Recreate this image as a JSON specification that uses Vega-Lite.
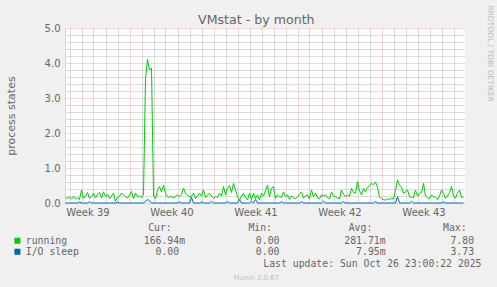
{
  "$schema": "https://vega.github.io/schema/vega-lite/v6.json",
  "background": "#f0f0f0",
  "padding": {"left": 5, "top": 5, "right": 30, "bottom": 30},
  "config": {
    "font": "DejaVu Sans",
    "view": {"stroke": null, "fill": "#ffffff"},
    "concat": {"spacing": 0},
    "axis": {"labelColor": "#666666", "titleColor": "#666666", "labelFont": "DejaVu Sans", "labelFontSize": 10, "titleFont": "DejaVu Sans", "titleFontWeight": "normal", "ticks": false}
  },
  "title": {"text": "RRDTOOL / TOBI OETIKER", "orient": "right", "anchor": "start", "font": "DejaVu Sans", "fontSize": 7.5, "fontWeight": "normal", "color": "#bbbbbb", "offset": 5, "dx": -9},
  "vconcat": [{
    "title": {"text": "VMstat - by month", "anchor": "middle", "font": "DejaVu Sans", "fontSize": 12.6, "fontWeight": "normal", "color": "#666666", "offset": -4, "dx": 13},
    "vconcat": [{
      "title": {"text": "Munin 2.0.67", "orient": "bottom", "anchor": "middle", "font": "DejaVu Sans", "fontSize": 7, "fontWeight": "normal", "color": "#c0c0c0", "offset": 5, "dx": 13},
      "vconcat": [{
        "title": {"text": "Last update: Sun Oct 26 23:00:22 2025", "orient": "bottom", "anchor": "end", "font": "DejaVu Sans Mono", "fontSize": 9.8, "fontWeight": "normal", "color": "#666666", "offset": 42, "dx": 16},
        "width": 400,
        "height": 175,
        "data": {
          "format": {"parse": {"t": "utc:'%Y-%m-%d %H'"}},
          "values": [
            {"t":"2025-09-23 16","r":0.16,"i":0},{"t":"2025-09-23 20","r":0.13,"i":0},
            {"t":"2025-09-24 00","r":0.17,"i":0},{"t":"2025-09-24 04","r":0.11,"i":0},{"t":"2025-09-24 08","r":0.18,"i":0},{"t":"2025-09-24 12","r":0.12,"i":0},{"t":"2025-09-24 16","r":0.15,"i":0},{"t":"2025-09-24 20","r":0.10,"i":0.03},
            {"t":"2025-09-25 00","r":0.37,"i":0},{"t":"2025-09-25 04","r":0.13,"i":0},{"t":"2025-09-25 08","r":0.20,"i":0},{"t":"2025-09-25 12","r":0.30,"i":0},{"t":"2025-09-25 16","r":0.13,"i":0.04},{"t":"2025-09-25 20","r":0.18,"i":0},
            {"t":"2025-09-26 00","r":0.28,"i":0},{"t":"2025-09-26 04","r":0.14,"i":0},{"t":"2025-09-26 08","r":0.25,"i":0},{"t":"2025-09-26 12","r":0.30,"i":0},{"t":"2025-09-26 16","r":0.15,"i":0},{"t":"2025-09-26 20","r":0.32,"i":0},
            {"t":"2025-09-27 00","r":0.18,"i":0},{"t":"2025-09-27 04","r":0.25,"i":0},{"t":"2025-09-27 08","r":0.12,"i":0},{"t":"2025-09-27 12","r":0.20,"i":0},{"t":"2025-09-27 16","r":0.28,"i":0},{"t":"2025-09-27 20","r":0.05,"i":0},
            {"t":"2025-09-28 00","r":0.16,"i":0.02},{"t":"2025-09-28 04","r":0.20,"i":0},{"t":"2025-09-28 08","r":0.28,"i":0},{"t":"2025-09-28 12","r":0.24,"i":0},{"t":"2025-09-28 16","r":0.18,"i":0},{"t":"2025-09-28 20","r":0.14,"i":0},
            {"t":"2025-09-29 00","r":0.22,"i":0},{"t":"2025-09-29 04","r":0.33,"i":0},{"t":"2025-09-29 08","r":0.12,"i":0},{"t":"2025-09-29 12","r":0.28,"i":0},{"t":"2025-09-29 16","r":0.18,"i":0},{"t":"2025-09-29 20","r":0.20,"i":0},
            {"t":"2025-09-30 00","r":0.15,"i":0},{"t":"2025-09-30 04","r":0.25,"i":0},{"t":"2025-09-30 08","r":3.55,"i":0.05},{"t":"2025-09-30 12","r":4.10,"i":0.10},{"t":"2025-09-30 16","r":3.80,"i":0.06},{"t":"2025-09-30 20","r":3.85,"i":0},
            {"t":"2025-10-01 00","r":0.20,"i":0},{"t":"2025-10-01 04","r":0.12,"i":0},{"t":"2025-10-01 08","r":0.37,"i":0},{"t":"2025-10-01 12","r":0.47,"i":0},{"t":"2025-10-01 16","r":0.32,"i":0},{"t":"2025-10-01 20","r":0.51,"i":0},
            {"t":"2025-10-02 00","r":0.28,"i":0},{"t":"2025-10-02 04","r":0.18,"i":0},{"t":"2025-10-02 08","r":0.16,"i":0},{"t":"2025-10-02 12","r":0.20,"i":0},{"t":"2025-10-02 16","r":0.13,"i":0},{"t":"2025-10-02 20","r":0.20,"i":0},
            {"t":"2025-10-03 00","r":0.23,"i":0},{"t":"2025-10-03 04","r":0.18,"i":0.03},{"t":"2025-10-03 08","r":0.25,"i":0},{"t":"2025-10-03 12","r":0.42,"i":0},{"t":"2025-10-03 16","r":0.28,"i":0},{"t":"2025-10-03 20","r":0.22,"i":0},
            {"t":"2025-10-04 00","r":0.18,"i":0},{"t":"2025-10-04 04","r":0.20,"i":0.16},{"t":"2025-10-04 08","r":0.28,"i":0},{"t":"2025-10-04 12","r":0.13,"i":0},{"t":"2025-10-04 16","r":0.20,"i":0},{"t":"2025-10-04 20","r":0.28,"i":0},
            {"t":"2025-10-05 00","r":0.20,"i":0.03},{"t":"2025-10-05 04","r":0.37,"i":0},{"t":"2025-10-05 08","r":0.16,"i":0},{"t":"2025-10-05 12","r":0.23,"i":0},{"t":"2025-10-05 16","r":0.28,"i":0},{"t":"2025-10-05 20","r":0.20,"i":0.05},
            {"t":"2025-10-06 00","r":0.13,"i":0},{"t":"2025-10-06 04","r":0.18,"i":0},{"t":"2025-10-06 08","r":0.16,"i":0},{"t":"2025-10-06 12","r":0.28,"i":0},{"t":"2025-10-06 16","r":0.20,"i":0},{"t":"2025-10-06 20","r":0.47,"i":0},
            {"t":"2025-10-07 00","r":0.23,"i":0},{"t":"2025-10-07 04","r":0.42,"i":0.04},{"t":"2025-10-07 08","r":0.50,"i":0},{"t":"2025-10-07 12","r":0.30,"i":0},{"t":"2025-10-07 16","r":0.56,"i":0},{"t":"2025-10-07 20","r":0.37,"i":0},
            {"t":"2025-10-08 00","r":0.18,"i":0},{"t":"2025-10-08 04","r":0.09,"i":0.09},{"t":"2025-10-08 08","r":0.20,"i":0},{"t":"2025-10-08 12","r":0.28,"i":0},{"t":"2025-10-08 16","r":0.15,"i":0},{"t":"2025-10-08 20","r":0.09,"i":0},
            {"t":"2025-10-09 00","r":0.28,"i":0},{"t":"2025-10-09 04","r":0.10,"i":0.05},{"t":"2025-10-09 08","r":0.28,"i":0},{"t":"2025-10-09 12","r":0.13,"i":0.10},{"t":"2025-10-09 16","r":0.23,"i":0},{"t":"2025-10-09 20","r":0.09,"i":0},
            {"t":"2025-10-10 00","r":0.28,"i":0},{"t":"2025-10-10 04","r":0.20,"i":0},{"t":"2025-10-10 08","r":0.35,"i":0},{"t":"2025-10-10 12","r":0.51,"i":0},{"t":"2025-10-10 16","r":0.18,"i":0},{"t":"2025-10-10 20","r":0.42,"i":0},
            {"t":"2025-10-11 00","r":0.47,"i":0},{"t":"2025-10-11 04","r":0.13,"i":0},{"t":"2025-10-11 08","r":0.23,"i":0},{"t":"2025-10-11 12","r":0.18,"i":0},{"t":"2025-10-11 16","r":0.16,"i":0.04},{"t":"2025-10-11 20","r":0.32,"i":0},
            {"t":"2025-10-12 00","r":0.18,"i":0},{"t":"2025-10-12 04","r":0.23,"i":0},{"t":"2025-10-12 08","r":0.10,"i":0},{"t":"2025-10-12 12","r":0.20,"i":0},{"t":"2025-10-12 16","r":0.15,"i":0},{"t":"2025-10-12 20","r":0.12,"i":0},
            {"t":"2025-10-13 00","r":0.18,"i":0},{"t":"2025-10-13 04","r":0.25,"i":0},{"t":"2025-10-13 08","r":0.32,"i":0.04},{"t":"2025-10-13 12","r":0.14,"i":0},{"t":"2025-10-13 16","r":0.20,"i":0},{"t":"2025-10-13 20","r":0.23,"i":0},
            {"t":"2025-10-14 00","r":0.12,"i":0},{"t":"2025-10-14 04","r":0.37,"i":0},{"t":"2025-10-14 08","r":0.18,"i":0},{"t":"2025-10-14 12","r":0.28,"i":0},{"t":"2025-10-14 16","r":0.15,"i":0},{"t":"2025-10-14 20","r":0.12,"i":0},
            {"t":"2025-10-15 00","r":0.23,"i":0},{"t":"2025-10-15 04","r":0.20,"i":0.05},{"t":"2025-10-15 08","r":0.23,"i":0},{"t":"2025-10-15 12","r":0.15,"i":0},{"t":"2025-10-15 16","r":0.12,"i":0},{"t":"2025-10-15 20","r":0.32,"i":0},
            {"t":"2025-10-16 00","r":0.20,"i":0},{"t":"2025-10-16 04","r":0.18,"i":0},{"t":"2025-10-16 08","r":0.14,"i":0},{"t":"2025-10-16 12","r":0.12,"i":0},{"t":"2025-10-16 16","r":0.37,"i":0},{"t":"2025-10-16 20","r":0.25,"i":0.04},
            {"t":"2025-10-17 00","r":0.18,"i":0},{"t":"2025-10-17 04","r":0.23,"i":0},{"t":"2025-10-17 08","r":0.20,"i":0},{"t":"2025-10-17 12","r":0.42,"i":0},{"t":"2025-10-17 16","r":0.30,"i":0},{"t":"2025-10-17 20","r":0.28,"i":0},
            {"t":"2025-10-18 00","r":0.61,"i":0},{"t":"2025-10-18 04","r":0.35,"i":0},{"t":"2025-10-18 08","r":0.23,"i":0},{"t":"2025-10-18 12","r":0.42,"i":0},{"t":"2025-10-18 16","r":0.32,"i":0},{"t":"2025-10-18 20","r":0.45,"i":0},
            {"t":"2025-10-19 00","r":0.50,"i":0},{"t":"2025-10-19 04","r":0.56,"i":0},{"t":"2025-10-19 08","r":0.52,"i":0},{"t":"2025-10-19 12","r":0.60,"i":0.04},{"t":"2025-10-19 16","r":0.45,"i":0},{"t":"2025-10-19 20","r":0.18,"i":0},
            {"t":"2025-10-20 00","r":0.12,"i":0},{"t":"2025-10-20 04","r":0.10,"i":0},{"t":"2025-10-20 08","r":0.08,"i":0},{"t":"2025-10-20 12","r":0.12,"i":0},{"t":"2025-10-20 16","r":0.10,"i":0},{"t":"2025-10-20 20","r":0.14,"i":0},
            {"t":"2025-10-21 00","r":0.12,"i":0},{"t":"2025-10-21 04","r":0.35,"i":0},{"t":"2025-10-21 08","r":0.66,"i":0.18},{"t":"2025-10-21 12","r":0.51,"i":0},{"t":"2025-10-21 16","r":0.45,"i":0},{"t":"2025-10-21 20","r":0.28,"i":0},
            {"t":"2025-10-22 00","r":0.32,"i":0},{"t":"2025-10-22 04","r":0.37,"i":0},{"t":"2025-10-22 08","r":0.18,"i":0},{"t":"2025-10-22 12","r":0.16,"i":0.05},{"t":"2025-10-22 16","r":0.15,"i":0},{"t":"2025-10-22 20","r":0.37,"i":0},
            {"t":"2025-10-23 00","r":0.20,"i":0},{"t":"2025-10-23 04","r":0.28,"i":0},{"t":"2025-10-23 08","r":0.30,"i":0},{"t":"2025-10-23 12","r":0.56,"i":0},{"t":"2025-10-23 16","r":0.20,"i":0},{"t":"2025-10-23 20","r":0.15,"i":0},
            {"t":"2025-10-24 00","r":0.13,"i":0},{"t":"2025-10-24 04","r":0.23,"i":0},{"t":"2025-10-24 08","r":0.18,"i":0},{"t":"2025-10-24 12","r":0.16,"i":0},{"t":"2025-10-24 16","r":0.10,"i":0},{"t":"2025-10-24 20","r":0.20,"i":0},
            {"t":"2025-10-25 00","r":0.37,"i":0},{"t":"2025-10-25 04","r":0.28,"i":0.03},{"t":"2025-10-25 08","r":0.13,"i":0},{"t":"2025-10-25 12","r":0.20,"i":0},{"t":"2025-10-25 16","r":0.30,"i":0},{"t":"2025-10-25 20","r":0.47,"i":0},
            {"t":"2025-10-26 00","r":0.20,"i":0},{"t":"2025-10-26 04","r":0.13,"i":0},{"t":"2025-10-26 08","r":0.28,"i":0},{"t":"2025-10-26 12","r":0.37,"i":0},{"t":"2025-10-26 16","r":0.16,"i":0},{"t":"2025-10-26 20","r":0.17,"i":0}
          ]
        },
        "layer": [
          {
            "mark": {"type": "line", "strokeWidth": 1},
            "encoding": {
              "x": {
                "field": "t", "type": "temporal",
                "scale": {"type": "utc", "nice": false, "domain": [{"year": 2025, "month": 9, "date": 23, "hours": 15, "utc": true}, {"year": 2025, "month": 10, "date": 26, "hours": 23, "utc": true}]},
                "axis": {
                  "orient": "bottom", "title": null, "domain": false, "ticks": false,
                  "tickCount": {"interval": "day", "step": 1},
                  "grid": true, "gridColor": "#a0a0a0", "gridDash": [1, 1],
                  "gridOpacity": {"condition": {"test": "utcFormat(datum.value, '%u') == '1'", "value": 0}, "value": 0.75},
                  "labelExpr": "utcFormat(datum.value, '%u') == '4' ? 'Week ' + utcFormat(datum.value, '%V') : ''",
                  "labelOffset": 6, "labelPadding": 4, "labelOverlap": false, "labelFlush": false, "labelBound": false
                }
              },
              "y": {
                "field": "r", "type": "quantitative",
                "scale": {"domain": [0, 5], "nice": false},
                "axis": {
                  "orient": "left", "title": null, "labels": false, "domain": false, "ticks": false,
                  "values": [0.2, 0.4, 0.6, 0.8, 1.2, 1.4, 1.6, 1.8, 2.2, 2.4, 2.6, 2.8, 3.2, 3.4, 3.6, 3.8, 4.2, 4.4, 4.6, 4.8],
                  "grid": true, "gridColor": "#a0a0a0", "gridDash": [1, 1], "gridOpacity": 0.75
                }
              },
              "color": {
                "datum": "running",
                "scale": {"domain": ["running", "I/O sleep"], "range": ["#00cc00", "#0066b3"]},
                "legend": {
                  "orient": "none", "legendX": -52.5, "legendY": 195, "direction": "vertical", "padding": 0,
                  "title": "\u200b\u00a0\u00a0\u00a0\u00a0\u00a0\u00a0\u00a0\u00a0\u00a0\u00a0\u00a0\u00a0\u00a0\u00a0\u00a0\u00a0\u00a0\u00a0\u00a0\u00a0\u00a0\u00a0\u00a0Cur:\u00a0\u00a0\u00a0\u00a0\u00a0\u00a0\u00a0\u00a0\u00a0\u00a0\u00a0\u00a0\u00a0Min:\u00a0\u00a0\u00a0\u00a0\u00a0\u00a0\u00a0\u00a0\u00a0\u00a0\u00a0\u00a0\u00a0Avg:\u00a0\u00a0\u00a0\u00a0\u00a0\u00a0\u00a0\u00a0\u00a0\u00a0\u00a0\u00a0Max:",
                  "titleFont": "DejaVu Sans Mono", "titleFontSize": 9.8, "titleFontWeight": "normal", "titleColor": "#666666", "titlePadding": 2.5, "titleLimit": 2000, "titleAnchor": "start",
                  "labelFont": "DejaVu Sans Mono", "labelFontSize": 9.8, "labelColor": "#666666", "labelLimit": 2000, "labelOffset": 3.5,
                  "labelExpr": "datum.label == 'running' ? 'running\u00a0\u00a0\u00a0\u00a0\u00a0\u00a0\u00a0\u00a0\u00a0\u00a0\u00a0\u00a0\u00a0166.94m\u00a0\u00a0\u00a0\u00a0\u00a0\u00a0\u00a0\u00a0\u00a0\u00a0\u00a0\u00a00.00\u00a0\u00a0\u00a0\u00a0\u00a0\u00a0\u00a0\u00a0\u00a0\u00a0\u00a0281.71m\u00a0\u00a0\u00a0\u00a0\u00a0\u00a0\u00a0\u00a0\u00a0\u00a0\u00a07.80\u00a0' : 'I/O\u00a0sleep\u00a0\u00a0\u00a0\u00a0\u00a0\u00a0\u00a0\u00a0\u00a0\u00a0\u00a0\u00a0\u00a00.00\u00a0\u00a0\u00a0\u00a0\u00a0\u00a0\u00a0\u00a0\u00a0\u00a0\u00a0\u00a0\u00a00.00\u00a0\u00a0\u00a0\u00a0\u00a0\u00a0\u00a0\u00a0\u00a0\u00a0\u00a0\u00a0\u00a07.95m\u00a0\u00a0\u00a0\u00a0\u00a0\u00a0\u00a0\u00a0\u00a0\u00a0\u00a03.73\u00a0'",
                  "symbolType": "square", "symbolSize": 4, "symbolStrokeWidth": 4, "rowPadding": 0, "clipHeight": 11
                }
              }
            }
          },
          {
            "mark": {"type": "line", "strokeWidth": 1},
            "encoding": {
              "x": {
                "field": "t", "type": "temporal",
                "axis": {
                  "orient": "bottom", "title": null, "labels": false, "ticks": false,
                  "domain": true, "domainColor": "#cfd6f8", "domainWidth": 1,
                  "values": [{"year": 2025, "month": 9, "date": 29, "utc": true}, {"year": 2025, "month": 10, "date": 6, "utc": true}, {"year": 2025, "month": 10, "date": 13, "utc": true}, {"year": 2025, "month": 10, "date": 20, "utc": true}],
                  "grid": true, "gridColor": "#de4f4f", "gridDash": [1, 1], "gridOpacity": 0.45
                }
              },
              "y": {
                "field": "i", "type": "quantitative",
                "title": "process states",
                "axis": {
                  "orient": "left", "domain": true, "domainColor": "#cfd6f8", "ticks": false,
                  "values": [0, 1, 2, 3, 4, 5], "format": ".1f",
                  "grid": true, "gridColor": "#de4f4f", "gridDash": [1, 1], "gridOpacity": 0.45,
                  "labelPadding": 5, "titleFontSize": 11, "titlePadding": 28
                }
              },
              "color": {"datum": "I/O sleep"}
            }
          }
        ],
        "resolve": {"axis": {"x": "independent", "y": "independent"}}
      }]
    }]
  }]
}
